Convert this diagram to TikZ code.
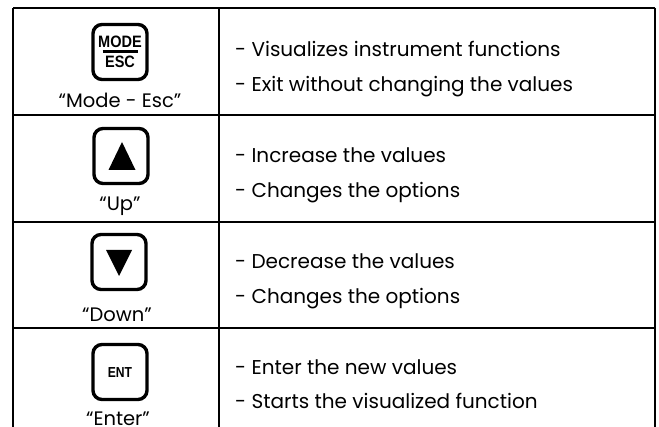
\documentclass[tikz,border=0pt]{standalone}
\usepackage{fontspec}
\setmainfont{Poppins}
\newfontfamily\keyfont{Liberation Sans}
\begin{document}
\begin{tikzpicture}[x=1pt,y=-1pt,
  gridline/.style={line width=1.4pt},
  keybox/.style={draw, line width=3.4pt, rounded corners=9pt, minimum width=54pt, minimum height=55pt, inner sep=0pt},
  desc/.style={anchor=base west, inner sep=0pt, font=\fontsize{20}{24}\selectfont},
  lbl/.style={anchor=base, inner sep=0pt, font=\fontsize{19.5}{23}\selectfont},
  keytxt/.style={inner sep=0pt, font=\keyfont\bfseries\fontsize{16.5}{16.5}\selectfont, xscale=0.88},
  tri/.style={fill=black, draw=none}
]
\useasboundingbox (0,0) rectangle (659,427);
\fill[white] (0,0) rectangle (659,427);
% grid
\coordinate (tl) at (13,8);
\coordinate (tm) at (219,8);
\coordinate (tr) at (655,8);
\coordinate (bl) at (13,427);
\coordinate (bm) at (219,427);
\coordinate (br) at (655,427);
\coordinate (r1l) at (13,115);  \coordinate (r1r) at (655,115);
\coordinate (r2l) at (13,222);  \coordinate (r2r) at (655,222);
\coordinate (r3l) at (13,328);  \coordinate (r3r) at (655,328);
\draw[gridline] (tl) -- (tr);
\draw[gridline] (tl) -- (bl);
\draw[gridline] (tm) -- (bm);
\draw[gridline] (tr) -- (br);
\draw[gridline] (r1l) -- (r1r);
\draw[gridline] (r2l) -- (r2r);
\draw[gridline] (r3l) -- (r3r);
% keys
\node[keybox] (kmode) at (120,52) {};
\node[keytxt] (tmode) at (120,41.5) {MODE};
\node[keytxt] (tesc) at (120,62) {ESC};
\draw[line width=2.2pt] (102.5,51.5) -- (137.5,51.5);
\node[keybox] (kup) at (121,156) {};
\fill[tri] (122,142) -- (135.5,170) -- (108.5,170) -- cycle;
\node[keybox] (kdown) at (119,262) {};
\fill[tri] (106,250) -- (132,250) -- (119,276) -- cycle;
\node[keybox] (kent) at (120,372) {};
\node[keytxt, font=\keyfont\bfseries\fontsize{14.5}{14.5}\selectfont, xscale=0.95] (tent) at (120,372.5) {ENT};
% labels
\node[lbl] (lmode) at (120,108) {“Mode - Esc”};
\node[lbl] (lup) at (120,211) {“Up”};
\node[lbl] (ldown) at (117,322) {“Down”};
\node[lbl] (lent) at (118,426) {“Enter”};
% descriptions
\node[desc] (d1a) at (235,57) {- Visualizes instrument functions};
\node[desc] (d1b) at (235,92) {- Exit without changing the values};
\node[desc] (d2a) at (235,163) {- Increase the values};
\node[desc] (d2b) at (235,198) {- Changes the options};
\node[desc] (d3a) at (235,269) {- Decrease the values};
\node[desc] (d3b) at (235,304) {- Changes the options};
\node[desc] (d4a) at (235,375) {- Enter the new values};
\node[desc] (d4b) at (235,409) {- Starts the visualized function};
\end{tikzpicture}
\end{document}
